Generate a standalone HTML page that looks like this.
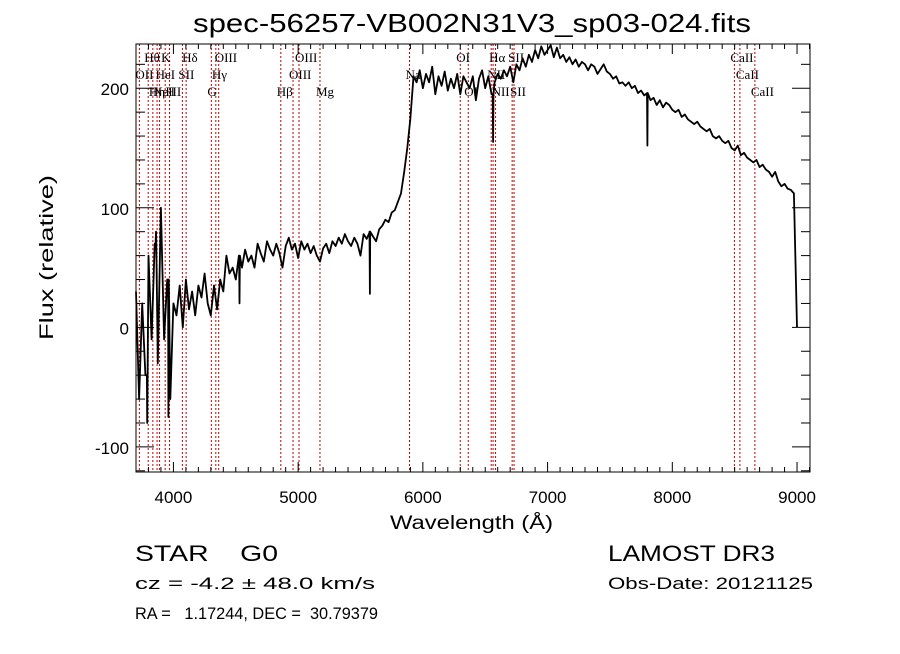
<!DOCTYPE html>
<html><head><meta charset="utf-8"><style>
html,body{margin:0;padding:0;background:#fff;}
svg text{font-family:"Liberation Sans",sans-serif;fill:#000;white-space:pre;}
.lab{font-family:"Liberation Serif",serif;font-size:13px;}
</style></head><body>
<svg id="chart" width="900" height="649" viewBox="0 0 900 649" xmlns="http://www.w3.org/2000/svg" xml:space="preserve">
<rect width="900" height="649" fill="#fff"/>
<text x="193" y="32" font-size="26" textLength="558" lengthAdjust="spacingAndGlyphs">spec-56257-VB002N31V3_sp03-024.fits</text>
<g id="lines"></g>
<g id="labels"></g>
<g id="axes"></g>
<path id="spec" fill="none" stroke="#000" stroke-width="1.8" stroke-linejoin="round"/>
<rect x="136" y="44" width="674" height="428" fill="none" stroke="#000" stroke-width="1"/>
<text x="390" y="529" font-size="19" textLength="163" lengthAdjust="spacingAndGlyphs">Wavelength (Å)</text>
<text transform="translate(53,340) rotate(-90)" font-size="19" textLength="165" lengthAdjust="spacingAndGlyphs">Flux (relative)</text>
<text x="135" y="561" font-size="22" textLength="143" lengthAdjust="spacingAndGlyphs">STAR    G0</text>
<text x="608" y="561" font-size="22" textLength="167" lengthAdjust="spacingAndGlyphs">LAMOST DR3</text>
<text x="135" y="589" font-size="17" textLength="240" lengthAdjust="spacingAndGlyphs">cz = -4.2 ± 48.0 km/s</text>
<text x="608" y="589" font-size="17" textLength="205" lengthAdjust="spacingAndGlyphs">Obs-Date: 20121125</text>
<text x="135" y="619" font-size="17" textLength="243" lengthAdjust="spacingAndGlyphs">RA =   1.17244, DEC =  30.79379</text>
</svg>
<script>
const startWave = 3700;
const stepWave = 25;
const flux = [30,-60,20,-40,60,-10,70,-30,100,-10,40,-60,20,
10,35,0,40,15,30,10,35,25,45,20,10,35,15,40,30,60,45,50,40,60,50,65,55,60,50,70,62,55,72,65,60,70,62,50,68,75,65,70,58,72,65,70,62,68,60,55,66,70,62,72,68,75,70,78,72,68,75,70,60,78,74,80,76,72,82,85,90,88,96,98,105,112,130,150,175,210,205,215,200,212,205,218,195,210,202,214,198,208,200,212,195,210,205,200,210,190,208,215,200,210,195,205,212,208,215,210,218,205,220,215,225,218,228,222,232,225,235,228,232,236,226,234,225,228,222,226,220,224,218,222,220,215,220,218,212,216,220,214,212,208,210,204,205,202,205,200,202,196,198,194,196,190,192,186,190,184,188,186,182,180,182,176,178,174,172,170,172,168,166,164,166,160,158,160,156,154,156,150,148,152,144,146,142,140,138,140,134,136,132,130,126,130,122,118,120,116,115,112,0];
const spikeWave = [3790,3860,3960,4530,5575,6563,7800];
const spikeFlux = [-80,80,-75,20,28,155,152];
const lineWaves = [3727,3798,3835,3869,3889,3934,3969,4072,4102,4304,4340,4363,4861,4959,5007,5175,5893,6300,6364,6548,6563,6583,6716,6731,8498,8542,8662];
const labelText = ["Hθ","K","Hδ","OIII","OIII","OI","Hα","SII","CaII","OII","HeI","SII","Hγ","OIII","Na","NII","CaII","NeIII","Hη","H","G","Hβ","Mg","OI","NII","SII","CaII"];
const labelWave = [3798,3934,4102,4363,5007,6300,6563,6716,8498,3727,3889,4072,4340,4959,5893,6548,8542,3869,3835,3969,4304,4861,5175,6364,6583,6731,8662];
const labelRow = [0,0,0,0,0,0,0,0,0,1,1,1,1,1,1,1,1,2,2,2,2,2,2,2,2,2,2];
const xTicks = [4000,5000,6000,7000,8000,9000];
const yTicks = [-100,0,100,200];

const NS='http://www.w3.org/2000/svg';
const X0=136,X1=810,Y0=44,Y1=472;
const xMin=3700,xMax=9104,yMin=-121,yMax=237;
function xs(w){return X0+(w-xMin)/(xMax-xMin)*(X1-X0);}
function ys(f){return Y1-(f-yMin)/(yMax-yMin)*(Y1-Y0);}
function mk(tag,attrs,parent){const e=document.createElementNS(NS,tag);for(const k in attrs)e.setAttribute(k,attrs[k]);parent.appendChild(e);return e;}

let pts=flux.map((f,i)=>[startWave+i*stepWave,f]);
spikeWave.forEach((w,i)=>{
  const j=pts.findIndex(p=>p[0]>w);
  const prev=pts[j-1];
  pts.splice(j,0,[w-3,prev[1]],[w,spikeFlux[i]],[w+3,prev[1]]);
});
let d='';
pts.forEach((p,i)=>{d+=(i?'L':'M')+xs(p[0]).toFixed(1)+','+ys(p[1]).toFixed(1);});
document.getElementById('spec').setAttribute('d',d);

const lg=document.getElementById('lines');
lineWaves.forEach(w=>{
  const l=mk('line',{x1:xs(w),x2:xs(w),y1:Y0,y2:Y1,stroke:'#c00000','stroke-width':1,'stroke-dasharray':'2,2'},lg);
  
  
});
const lab=document.getElementById('labels');
labelText.forEach((t,i)=>{
  const tx=mk('text',{x:xs(labelWave[i])-4,y:62+labelRow[i]*17,class:'lab'},lab);
  tx.textContent=t;
  
  
});

const ag=document.getElementById('axes');
for(let w=3800;w<=9100;w+=100){
  const major=w%1000===0, L=major?10:5;
  mk('line',{x1:xs(w),x2:xs(w),y1:Y1,y2:Y1-L,stroke:'#000'},ag);
  mk('line',{x1:xs(w),x2:xs(w),y1:Y0,y2:Y0+L,stroke:'#000'},ag);
}
for(let f=-120;f<=236;f+=20){
  const major=f%100===0, L=major?18:9;
  mk('line',{x1:X0,x2:X0+L,y1:ys(f),y2:ys(f),stroke:'#000'},ag);
  mk('line',{x1:X1,x2:X1-L,y1:ys(f),y2:ys(f),stroke:'#000'},ag);
}
xTicks.forEach(w=>{
  const t=mk('text',{x:xs(w),y:503,'font-size':17,'text-anchor':'middle'},ag);
  t.textContent=w;
  
  
});
yTicks.forEach(f=>{
  const t=mk('text',{x:129,y:ys(f)+7,'font-size':17,'text-anchor':'end'},ag);
  t.textContent=f;
  
  
});
</script>
</body></html>
